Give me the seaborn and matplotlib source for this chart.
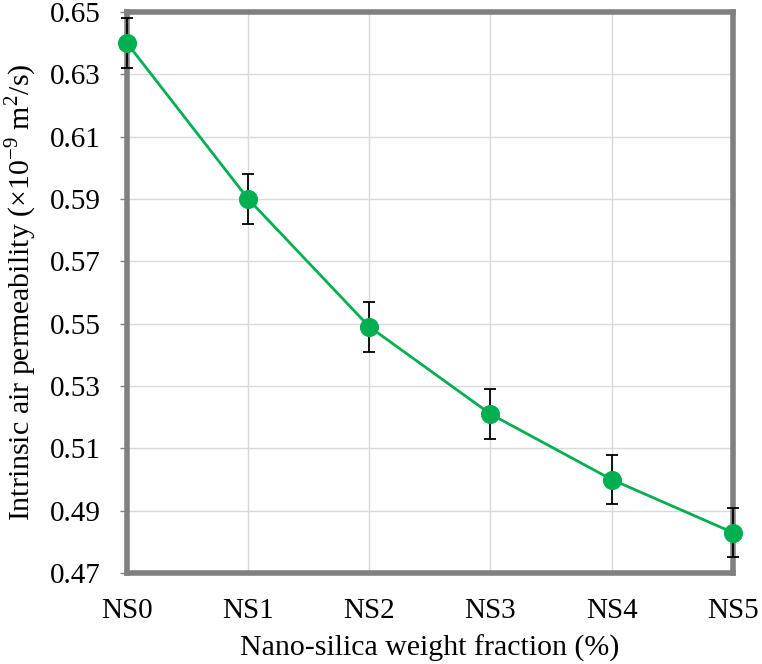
import matplotlib
matplotlib.use("Agg")
import matplotlib.pyplot as plt
import seaborn as sns
import pandas as pd
import numpy as np

categories = ["NS0", "NS1", "NS2", "NS3", "NS4", "NS5"]
permeability = [0.640, 0.590, 0.549, 0.521, 0.500, 0.483]
errors = [0.008, 0.008, 0.008, 0.008, 0.008, 0.008]
yticks = [0.47, 0.49, 0.51, 0.53, 0.55, 0.57, 0.59, 0.61, 0.63, 0.65]

sns.set_theme(style="white")
plt.rcParams['font.family'] = ['Liberation Serif', 'DejaVu Serif']
plt.rcParams['mathtext.fontset'] = 'custom'
plt.rcParams['mathtext.rm'] = 'Liberation Serif'

df = pd.DataFrame({"x": np.arange(len(categories)), "y": permeability})

fig = plt.figure(figsize=(7.62, 6.64), dpi=100)
ax = fig.add_axes([0.1667, 0.137, 0.795, 0.845])

green = "#00B050"
ax.errorbar(df["x"], df["y"], yerr=errors, fmt="none", ecolor="black",
            elinewidth=1.3, capsize=4, capthick=1.3, zorder=3, clip_on=False)
sns.lineplot(data=df, x="x", y="y", ax=ax, color=green, linewidth=2.0,
             marker="o", markersize=13, markeredgecolor=green, zorder=4,
             clip_on=False)

ax.set_xlim(0, 5)
ax.set_ylim(0.47, 0.65)
ax.set_xticks(range(len(categories)))
ax.set_xticklabels(categories)
ax.set_yticks(yticks)
ax.set_yticklabels([f"{t:.2f}" for t in yticks])
ax.grid(True, color="#d9d9d9", linewidth=1.0)
ax.set_axisbelow(True)

for s in ax.spines.values():
    s.set_color("#808080")
    s.set_linewidth(4)

ax.tick_params(axis="y", which="both", left=True, length=5, width=1, color="#808080",
               labelsize=21, pad=14, labelcolor="black")
ax.tick_params(axis="x", bottom=False, labelsize=21, pad=12, labelcolor="black")

ax.set_xlabel("Nano-silica weight fraction (%)", fontsize=21.5, color="black", labelpad=8)
ax.set_ylabel(r"Intrinsic air permeability ($\mathrm{\times}$10$^{\mathrm{-9}}$ m$^{\mathrm{2}}$/s)",
              fontsize=21.5, color="black", labelpad=8)

fig.savefig("out.png", dpi=100)
